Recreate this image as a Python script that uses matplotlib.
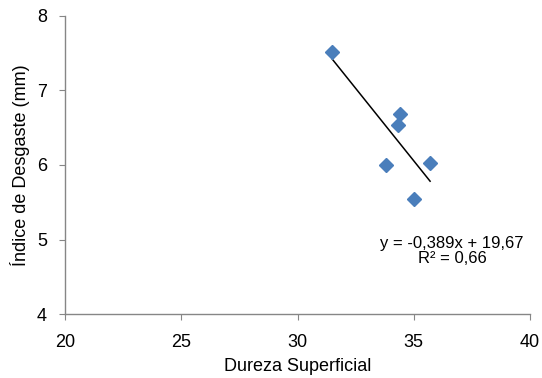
#!/usr/bin/env python3

import numpy as np
import matplotlib
matplotlib.use('Agg')
import matplotlib.pyplot as plt

plt.rcParams['font.family'] = ['Liberation Sans', 'DejaVu Sans']

# values
dureza = [31.5, 34.4, 34.3, 33.8, 35.7, 35.0]
desgaste = [7.52, 6.68, 6.54, 6.00, 6.03, 5.55]
slope = -0.389
intercept = 19.67
r2 = 0.66
x_ticks = [20, 25, 30, 35, 40]
y_ticks = [4, 5, 6, 7, 8]

grey = '#868686'

fig = plt.figure(figsize=(5.42, 3.78), dpi=100)
ax = fig.add_axes([0.12, 0.169, 0.858, 0.789])

ax.plot(dureza, desgaste, linestyle='none', marker='D', markersize=7,
        color='#4a7ebb', zorder=3)

xs = np.array([min(dureza), max(dureza)])
ax.plot(xs, slope * xs + intercept, color='black', linewidth=1.1, zorder=2)

eq = f'y = {slope:.3f}x + {intercept:.2f}'.replace('.', ',')
r2_txt = f'R² = {r2:.2f}'.replace('.', ',')
ax.text(36.65, 4.84, eq + '\n' + r2_txt, ha='center', va='center',
        fontsize=12, linespacing=1.0)

ax.set_xlim(20, 40)
ax.set_ylim(4, 8)
ax.set_xticks(x_ticks)
ax.set_yticks(y_ticks)
ax.set_xlabel('Dureza Superficial', fontsize=13, labelpad=5)
ax.set_ylabel('Índice de Desgaste (mm)', fontsize=13, labelpad=5)

for side in ['top', 'right']:
    ax.spines[side].set_visible(False)
for side in ['left', 'bottom']:
    ax.spines[side].set_color(grey)
    ax.spines[side].set_linewidth(1)
ax.tick_params(direction='out', length=4, color=grey, labelsize=13)
ax.tick_params(axis='x', pad=10)
ax.tick_params(axis='y', pad=9)

fig.savefig('out.png', dpi=100)
